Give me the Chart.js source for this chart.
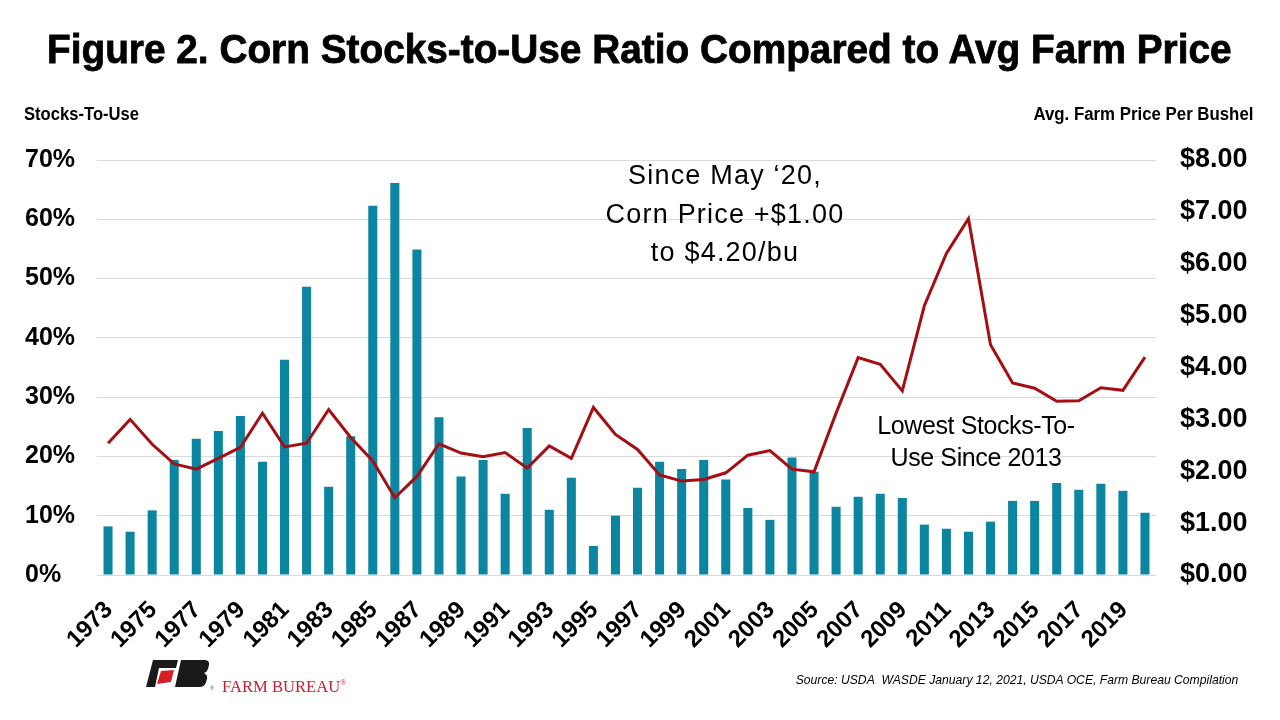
<!DOCTYPE html>
<html>
<head>
<meta charset="utf-8">
<script src="https://cdn.jsdelivr.net/npm/chart.js@4.4.1/dist/chart.umd.min.js"></script>
<style>
  body { margin: 0; background: #fff; }
  #wrap { position: relative; width: 1280px; height: 720px; overflow: hidden; font-family: "Liberation Sans", Arial, sans-serif; }
  #chart { position: absolute; left: 0; top: 0; }
  .t { position: absolute; white-space: nowrap; line-height: 1; color: #000; }
</style>
</head>
<body>
<div id="wrap">
  <canvas id="chart" width="1280" height="720"></canvas>

  <div class="t fit" id="title" data-w="1186" style="left:47px;top:29px;font-weight:bold;font-size:40px;-webkit-text-stroke:0.8px #000;">Figure 2. Corn Stocks-to-Use Ratio Compared to Avg Farm Price</div>
  <div class="t fit" data-w="115" style="left:24px;top:105px;font-weight:bold;font-size:18px;">Stocks-To-Use</div>
  <div class="t fit" data-w="220" data-right="1" style="right:27px;top:105px;font-weight:bold;font-size:18px;">Avg. Farm Price Per Bushel</div>

  <div class="t" style="left:525px;width:400px;top:156px;font-size:27px;line-height:38.5px;text-align:center;letter-spacing:1.2px;">Since May &lsquo;20,<br>Corn Price +$1.00<br>to $4.20/bu</div>
  <div class="t" style="left:826px;width:300px;top:409px;font-size:25px;line-height:32px;text-align:center;letter-spacing:-0.4px;">Lowest Stocks-To-<br>Use Since 2013</div>

  <svg style="position:absolute;left:146px;top:660px;" width="70" height="32" viewBox="0 0 70 32">
    <polygon points="7,0 32,0 30,8 13,8 9,27 0,27" fill="#1a1a1a"/>
    <polygon points="15,11 28,10 25,22 11,24" fill="#d62027"/>
    <path d="M35,0 L58,0 Q64,0 63,5 L62,9 Q61,12 58,13 Q62,15 61,19 L60,22 Q59,27 53,27 L29,27 Z" fill="#1a1a1a"/>
    <text x="64" y="30" font-size="5" fill="#444">&reg;</text>
  </svg>
  <div class="t" style="left:222px;top:679px;font-family:'Liberation Serif',serif;font-size:16.6px;color:#c8202f;">FARM BUREAU<sup style="font-size:8px;">&reg;</sup></div>

  <div class="t fit" data-w="443" data-right="1" style="right:42px;top:673px;font-style:italic;font-size:13px;">Source: USDA&nbsp; WASDE January 12, 2021, USDA OCE, Farm Bureau Compilation</div>
</div>

<script>
// categories
const years = ['1973','1974','1975','1976','1977','1978','1979','1980','1981','1982',
  '1983','1984','1985','1986','1987','1988','1989','1990','1991','1992',
  '1993','1994','1995','1996','1997','1998','1999','2000','2001','2002',
  '2003','2004','2005','2006','2007','2008','2009','2010','2011','2012',
  '2013','2014','2015','2016','2017','2018','2019','2020'];

// stocks-to-use ratio, percent
const stocksToUse = [8.2, 7.3, 10.9, 19.4, 23.0, 24.3, 26.8, 19.1, 36.3, 48.6,
  14.9, 23.4, 62.3, 66.1, 54.9, 26.6, 16.6, 19.4, 13.7, 24.8,
  11.0, 16.4, 4.9, 10.0, 14.7, 19.1, 17.9, 19.4, 16.1, 11.3,
  9.3, 19.8, 17.4, 11.5, 13.2, 13.7, 13.0, 8.5, 7.8, 7.3,
  9.0, 12.5, 12.5, 15.5, 14.4, 15.4, 14.2, 10.5];

// average farm price, $ per bushel
const farmPrice = [2.54, 3.00, 2.52, 2.14, 2.04, 2.25, 2.46, 3.12, 2.47, 2.54,
  3.19, 2.65, 2.20, 1.49, 1.90, 2.53, 2.35, 2.28, 2.36, 2.06,
  2.49, 2.25, 3.23, 2.71, 2.42, 1.93, 1.81, 1.84, 1.97, 2.31,
  2.40, 2.04, 1.99, 3.12, 4.19, 4.06, 3.55, 5.19, 6.20, 6.87,
  4.44, 3.70, 3.60, 3.35, 3.36, 3.61, 3.56, 4.20];

const leftTicks = ['0%','10%','20%','30%','40%','50%','60%','70%'];
const rightTicks = ['$0.00','$1.00','$2.00','$3.00','$4.00','$5.00','$6.00','$7.00','$8.00'];

// squeeze the overlay texts to the widths they have in the picture
const mctx = document.createElement('canvas').getContext('2d');
document.querySelectorAll('.fit').forEach(function(el) {
  const cs = getComputedStyle(el);
  mctx.font = cs.fontStyle + ' ' + cs.fontWeight + ' ' + cs.fontSize + ' ' + cs.fontFamily;
  const w = mctx.measureText(el.textContent).width;
  const s = parseFloat(el.dataset.w) / w;
  el.style.transformOrigin = el.dataset.right ? 'right top' : 'left top';
  el.style.transform = 'scaleX(' + s + ')';
});

const ctx = document.getElementById('chart').getContext('2d');
new Chart(ctx, {
  data: {
    labels: years,
    datasets: [
      {
        type: 'line',
        label: 'Avg. Farm Price',
        data: farmPrice,
        yAxisID: 'y1',
        borderColor: '#a30f12',
        borderWidth: 3,
        pointRadius: 0,
        tension: 0,
        order: 0
      },
      {
        type: 'bar',
        label: 'Stocks-To-Use',
        data: stocksToUse,
        yAxisID: 'y',
        backgroundColor: '#0c85a1',
        barPercentage: 0.41,
        categoryPercentage: 1,
        order: 1
      }
    ]
  },
  options: {
    responsive: false,
    animation: false,
    devicePixelRatio: 1,
    layout: { padding: { left: 25, right: 0, top: 160, bottom: 0 } },
    plugins: { legend: { display: false }, tooltip: { enabled: false } },
    scales: {
      x: {
        grid: { display: false },
        border: { display: false },
        ticks: {
          autoSkip: false,
          minRotation: 45,
          maxRotation: 45,
          padding: 13,
          labelOffset: 1,
          color: '#000',
          font: { family: 'Liberation Sans', weight: 'bold', size: 24 },
          callback: function(v, i) { return i % 2 === 0 ? years[i] : ''; }
        },
        afterFit: function(s) { s.height = 145; }
      },
      y: {
        position: 'left',
        min: 0, max: 70,
        ticks: {
          stepSize: 10,
          crossAlign: 'far',
          color: '#000',
          font: { family: 'Liberation Sans', weight: 'bold', size: 25 },
          callback: function(v, i) { return leftTicks[i]; }
        },
        grid: { color: '#d9d9d9', lineWidth: 1, drawTicks: false },
        border: { display: false },
        afterFit: function(s) { s.width = 72; }
      },
      y1: {
        position: 'right',
        min: 0, max: 8,
        ticks: {
          stepSize: 1,
          padding: 24,
          color: '#000',
          font: { family: 'Liberation Sans', weight: 'bold', size: 27 },
          callback: function(v, i) { return rightTicks[i]; }
        },
        grid: { display: false, drawTicks: false },
        border: { display: false },
        afterFit: function(s) { s.width = 124; }
      }
    }
  }
});
</script>
</body>
</html>
